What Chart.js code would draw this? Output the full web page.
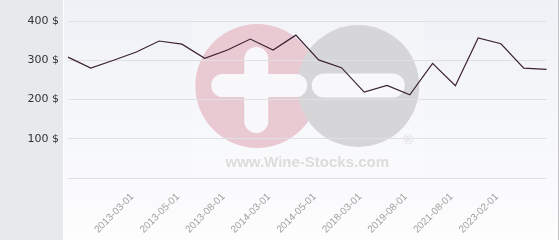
<!DOCTYPE html>
<html>
<head>
<meta charset="utf-8">
<title>Wine price history</title>
<script src="https://cdn.jsdelivr.net/npm/chart.js@4/dist/chart.umd.min.js"></script>
<style>
    html, body { margin: 0; padding: 0; background: #ffffff; }
    #priceChart { display: block; }
</style>
</head>
<body>
<canvas id="priceChart" width="560" height="240"></canvas>
<script>
// --- Data ---
// only every second point carries a date on the axis
const dateLabels = [
    '', '', '', '2013-03-01', '', '2013-05-01', '', '2013-08-01', '', '2014-03-01', '',
    '2014-05-01', '', '2018-03-01', '', '2019-08-01', '', '2021-08-01', '', '2023-02-01', '', ''
];
const prices = [
    308, 280, 300, 321, 349, 341, 305, 326, 354, 326, 364,
    301, 281, 219, 236, 212, 292, 235, 357, 342, 280, 277
];
const yTicks = [0, 100, 200, 300, 400];
const CURRENCY = '$';

// --- Background & watermark ---
const backdrop = {
    id: 'backdrop',
    beforeDraw(chart) {
        const { ctx, width, height, chartArea } = chart;
        ctx.save();
        // left panel
        ctx.fillStyle = '#e6eaed';
        ctx.fillRect(0, 0, 63, height);
        ctx.fillStyle = '#fbfcfd';
        ctx.fillRect(63, 0, 1, height);
        // plot panel
        const grad = ctx.createLinearGradient(0, 0, 0, height);
        grad.addColorStop(0, '#eff1f6');
        grad.addColorStop(1, '#fdfdfe');
        ctx.fillStyle = grad;
        ctx.fillRect(64, 0, width - 66, height);
        ctx.fillStyle = '#c4c6ca';
        ctx.fillRect(width - 2, 0, 1, height);

        drawWatermark(ctx, (chartArea.left + chartArea.right) / 2, chartArea.top);
        ctx.restore();
    }
};

function pill(ctx, cx, cy, w, h) {
    const r = Math.min(w, h) / 2;
    ctx.beginPath();
    ctx.roundRect(cx - w / 2, cy - h / 2, w, h, r);
    ctx.fill();
}

function drawWatermark(ctx, cx, top) {
    const cy = top + 65;
    ctx.fillStyle = 'rgba(255,255,255,0.2)';
    ctx.fillRect(cx - 115, top - 3, 232, 155);

    // plus
    ctx.fillStyle = '#e9cad3';
    ctx.beginPath();
    ctx.arc(cx - 50, cy, 62, 0, Math.PI * 2);
    ctx.fill();
    // minus
    ctx.fillStyle = '#d6d6d8';
    ctx.beginPath();
    ctx.arc(cx + 51, cy, 61, 0, Math.PI * 2);
    ctx.fill();

    ctx.fillStyle = '#f8f8fa';
    pill(ctx, cx - 48, cy - 0.5, 96, 23);
    pill(ctx, cx - 51, cy + 4, 24, 86);
    pill(ctx, cx + 51, cy - 0.5, 93, 24);

    ctx.fillStyle = '#dcdcdc';
    ctx.font = 'bold 15px "Liberation Sans", Arial, sans-serif';
    ctx.textAlign = 'center';
    ctx.textBaseline = 'alphabetic';
    ctx.fillText('www.Wine-Stocks.com', cx, top + 146);
    ctx.font = '13px "Liberation Sans", Arial, sans-serif';
    ctx.fillText('\u00AE', cx + 101, top + 123);
}

// --- Chart ---
function initChart() {
    const ctx = document.getElementById('priceChart').getContext('2d');
    new Chart(ctx, {
        type: 'line',
        data: {
            labels: dateLabels,
            datasets: [{
                data: prices,
                borderColor: '#3b2232',
                borderWidth: 1.2,
                pointRadius: 0,
                tension: 0,
                fill: false
            }]
        },
        options: {
            responsive: false,
            animation: false,
            layout: { padding: { top: 21, right: 5, left: 0, bottom: 0 } },
            plugins: {
                legend: { display: false },
                tooltip: { enabled: false }
            },
            scales: {
                x: {
                    grid: { display: false },
                    border: { display: false },
                    ticks: {
                        autoSkip: false,
                        minRotation: 45,
                        maxRotation: 45,
                        padding: 5,
                        labelOffset: -4,
                        color: '#a0a0a0',
                        font: { family: '"Liberation Sans", Arial, sans-serif', size: 10 }
                    },
                    afterFit: (scale) => { scale.height = 62; }
                },
                y: {
                    min: yTicks[0],
                    max: yTicks[yTicks.length - 1],
                    afterBuildTicks: (scale) => { scale.ticks = yTicks.map(v => ({ value: v })); },
                    grid: { color: '#dfe0e4', drawTicks: false },
                    border: { display: false },
                    ticks: {
                        padding: 9,
                        color: '#333333',
                        font: { family: '"DejaVu Sans", Verdana, sans-serif', size: 11 },
                        callback: (v) => v === 0 ? '' : `${v} ${CURRENCY}`
                    },
                    afterFit: (scale) => { scale.width = 68; }
                }
            }
        },
        plugins: [backdrop]
    });
}

document.addEventListener('DOMContentLoaded', initChart);
</script>
</body>
</html>
